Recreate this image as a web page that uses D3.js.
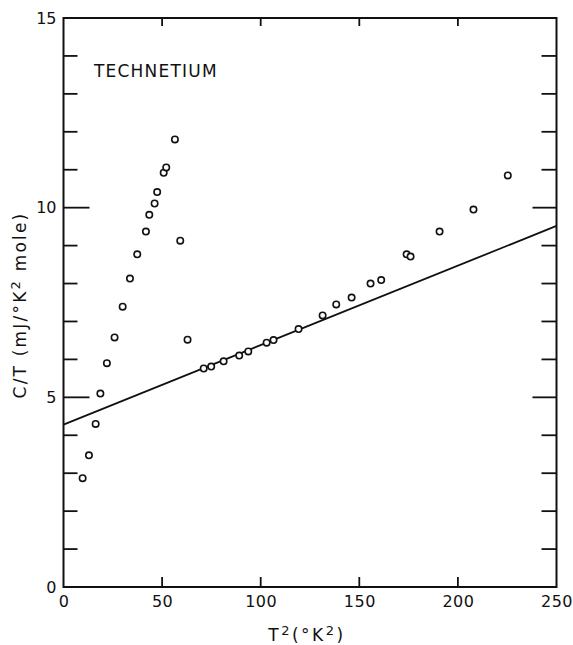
<!DOCTYPE html>
<html><head><meta charset="utf-8">
<script src="https://cdn.jsdelivr.net/npm/d3@7"></script>
<style>
body{margin:0;background:#fff;}
svg text{font-family:"DejaVu Sans",sans-serif;fill:#111;}
</style></head>
<body><svg id="c" width="573" height="645"></svg>
<script>
const t2 = [9.7,12.9,16.3,18.7,22.0,25.9,30.0,33.7,37.4,41.8,43.5,46.2,47.5,50.8,52.1,56.5,59.2,62.9,71.1,74.9,81.2,89.1,93.7,103.0,106.5,119.2,131.4,138.3,146.1,155.7,161.1,174.0,176.0,190.7,207.9,225.3];
const cOverT = [2.87,3.47,4.30,5.10,5.90,6.58,7.39,8.13,8.77,9.37,9.81,10.11,10.41,10.92,11.06,11.80,9.13,6.52,5.76,5.81,5.95,6.10,6.21,6.44,6.51,6.80,7.16,7.45,7.63,8.00,8.09,8.77,8.71,9.37,9.95,10.85];
const fitX = [0,250];
const fitY = [4.28,9.52];
const xTicks = [0,50,100,150,200,250];
const yLabelTicks = [0,5,10,15];
const yMinorTicks = [1,2,3,4,6,7,8,9,11,12,13,14];
const yMajorTicks = [5,10];

const svg = d3.select("#c");
const x = d3.scaleLinear().domain([0,250]).range([63.5,556.5]);
const y = d3.scaleLinear().domain([0,15]).range([587,18]);
const L=x(0), R=x(250), T=y(15), B=y(0);

// frame
svg.append("rect").attr("x",L).attr("y",T).attr("width",R-L).attr("height",B-T)
  .attr("fill","none").attr("stroke","#111").attr("stroke-width",2);

// bottom axis labels
const bottom = d3.axisBottom(x).tickValues(xTicks).tickSize(0).tickPadding(9).tickFormat(d3.format("d"));
const gb = svg.append("g").attr("transform",`translate(0,${B})`).call(bottom);
gb.select(".domain").remove();
gb.selectAll("text").attr("font-size",16).attr("fill","#111").attr("letter-spacing",0.5);
// inward ticks bottom and top
const inner = [50,100,150,200];
svg.append("g").selectAll("line").data(inner).join("line")
  .attr("x1",d=>x(d)).attr("x2",d=>x(d)).attr("y1",B).attr("y2",B-10)
  .attr("stroke","#111").attr("stroke-width",1.8);
svg.append("g").selectAll("line").data(inner).join("line")
  .attr("x1",d=>x(d)).attr("x2",d=>x(d)).attr("y1",T).attr("y2",T+8)
  .attr("stroke","#111").attr("stroke-width",1.8);

// left axis labels
const left = d3.axisLeft(y).tickValues(yLabelTicks).tickSize(0).tickPadding(7).tickFormat(d3.format("d"));
const gl = svg.append("g").attr("transform",`translate(${L},0)`).call(left);
gl.select(".domain").remove();
gl.selectAll("text").attr("font-size",16).attr("fill","#111");

// y inward ticks left and right
svg.append("g").selectAll("line").data(yMinorTicks).join("line")
  .attr("x1",L).attr("x2",L+14).attr("y1",d=>y(d)).attr("y2",d=>y(d))
  .attr("stroke","#111").attr("stroke-width",1.8);
svg.append("g").selectAll("line").data(yMajorTicks).join("line")
  .attr("x1",L).attr("x2",L+26).attr("y1",d=>y(d)).attr("y2",d=>y(d))
  .attr("stroke","#111").attr("stroke-width",1.8);
svg.append("g").selectAll("line").data(yMinorTicks).join("line")
  .attr("x1",R).attr("x2",R-15).attr("y1",d=>y(d)).attr("y2",d=>y(d))
  .attr("stroke","#111").attr("stroke-width",1.8);
svg.append("g").selectAll("line").data(yMajorTicks).join("line")
  .attr("x1",R).attr("x2",R-24).attr("y1",d=>y(d)).attr("y2",d=>y(d))
  .attr("stroke","#111").attr("stroke-width",1.8);

// fit line
const fit = fitX.map((v,i)=>[v,fitY[i]]);
svg.append("path").datum(fit)
  .attr("d",d3.line().x(d=>x(d[0])).y(d=>y(d[1])))
  .attr("fill","none").attr("stroke","#111").attr("stroke-width",1.8);

// points
svg.append("g").selectAll("circle").data(t2.map((v,i)=>[v,cOverT[i]])).join("circle")
  .attr("cx",d=>x(d[0])).attr("cy",d=>y(d[1])).attr("r",3.2)
  .attr("fill","#fff").attr("stroke","#111").attr("stroke-width",1.6);

// title
svg.append("text").attr("x",94).attr("y",77).attr("font-size",17).attr("letter-spacing",1.2)
  .attr("fill","#111").text("TECHNETIUM");

// x axis title
const xt = svg.append("text").attr("x",307).attr("y",641).attr("text-anchor","middle")
  .attr("font-size",17).attr("letter-spacing",2.5).attr("fill","#111");
xt.append("tspan").text("T");
xt.append("tspan").attr("dy",-6).attr("font-size",13).text("2");
xt.append("tspan").attr("dy",6).text("(°K");
xt.append("tspan").attr("dy",-6).attr("font-size",13).text("2");
xt.append("tspan").attr("dy",6).text(")");

// y axis title
const yt = svg.append("text").attr("transform","translate(26,305) rotate(-90)")
  .attr("text-anchor","middle").attr("font-size",17).attr("letter-spacing",2.2).attr("fill","#111");
yt.append("tspan").text("C/T (mJ/°K");
yt.append("tspan").attr("dy",-6).attr("font-size",13).text("2");
yt.append("tspan").attr("dy",6).text(" mole)");
</script></body></html>
